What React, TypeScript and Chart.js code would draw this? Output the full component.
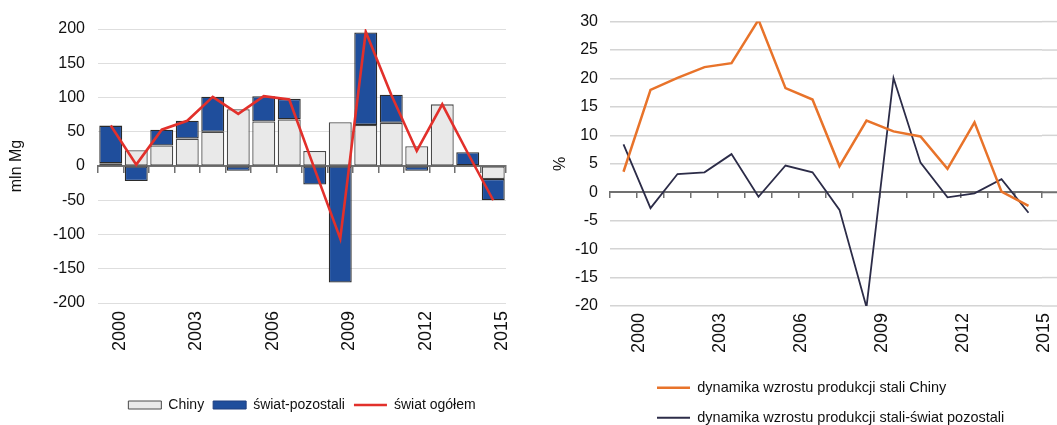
import React, { useEffect, useRef } from 'react';
import { Chart, registerables } from 'chart.js';

Chart.register(...registerables);

// ---- data ----
const years = ['2000', '2001', '2002', '2003', '2004', '2005', '2006', '2007', '2008', '2009', '2010', '2011', '2012', '2013', '2014', '2015'];
// left panel: annual change of steel production, mln Mg
const chinaDelta = [4, 23, 30, 40, 50, 83, 65, 68, 22, 64, 60, 63, 29, 90, 1, -19];
const restDelta = [55, -22, 23, 26, 51, -7, 37, 30, -27, -170, 135, 41, -7, -1, 19, -31];
const worldDelta = [59, 2, 53, 66, 101, 76, 102, 97, -5, -106, 196, 104, 22, 90, 19, -50];
// right panel: growth dynamics, %
const chinaGrowth = [3.6, 18.0, 20.1, 22.0, 22.7, 30.3, 18.3, 16.3, 4.6, 12.6, 10.7, 9.8, 4.1, 12.3, 0.1, -2.4];
const restGrowth = [8.4, -2.8, 3.2, 3.5, 6.7, -0.8, 4.7, 3.5, -3.1, -20.2, 20.1, 5.2, -0.9, -0.2, 2.3, -3.6];
// axis ranges
const leftRange = [-200, 200, 50];
const rightRange = [-20, 30, 5];
const leftTitle = 'mln Mg';
const rightTitle = '%';
const leftSeriesNames = ['Chiny', 'świat-pozostali', 'świat ogółem'];
const rightSeriesNames = ['dynamika wzrostu produkcji stali Chiny', 'dynamika wzrostu produkcji stali-świat pozostali'];

const FONT = "'Liberation Sans', Arial, Helvetica, sans-serif";
const TEXT = '#111111';
const GREY_FILL = '#e9e9e9';
const BLUE = '#1f4e9c';
const RED = '#e2302b';
const ORANGE = '#e8732a';
const NAVY = '#2c2c48';
const AXIS = '#707070';

const every3 = (_v: any, i: number) => (i % 3 === 0 ? years[i] : null);

function LeftChart() {
  const ref = useRef<HTMLCanvasElement>(null);
  useEffect(() => {
    const chart = new Chart(ref.current as HTMLCanvasElement, {
      type: 'bar',
      data: {
        labels: years,
        datasets: [
          {
            type: 'bar', label: leftSeriesNames[0], data: chinaDelta,
            backgroundColor: GREY_FILL, borderColor: '#4a4a4a', borderWidth: 1.3, borderSkipped: false,
            stack: 'bars', order: 1, barPercentage: 0.9, categoryPercentage: 1,
          } as any,
          {
            type: 'bar', label: leftSeriesNames[1], data: restDelta,
            backgroundColor: BLUE, borderColor: '#2b2b2b', borderWidth: 1.3, borderSkipped: false,
            stack: 'bars', order: 1, barPercentage: 0.9, categoryPercentage: 1,
          } as any,
          {
            type: 'line', label: leftSeriesNames[2], data: worldDelta,
            borderColor: RED, backgroundColor: RED, borderWidth: 2.6, pointRadius: 0, tension: 0,
            fill: false, stack: 'line', order: 0,
          } as any,
        ],
      },
      options: {
        responsive: false,
        animation: false,
        layout: { padding: { left: 0, right: 19, top: 29, bottom: 3 } },
        plugins: {
          tooltip: { enabled: false },
          legend: {
            position: 'bottom',
            fullSize: false,
            align: 'center',
            labels: {
              usePointStyle: true,
              pointStyleWidth: 33,
              boxHeight: 8,
              padding: 9,
              color: TEXT,
              font: { family: FONT, size: 14 },
              generateLabels: (c: any) => [
                { text: c.data.datasets[0].label, fillStyle: GREY_FILL, strokeStyle: '#4a4a4a', lineWidth: 1, pointStyle: 'rect', hidden: false, datasetIndex: 0, fontColor: TEXT },
                { text: c.data.datasets[1].label, fillStyle: BLUE, strokeStyle: '#1f3f80', lineWidth: 1, pointStyle: 'rect', hidden: false, datasetIndex: 1, fontColor: TEXT },
                { text: c.data.datasets[2].label, fillStyle: RED, strokeStyle: RED, lineWidth: 2.5, pointStyle: 'line', hidden: false, datasetIndex: 2, fontColor: TEXT },
              ],
            },
          } as any,
        },
        scales: {
          x: {
            type: 'category', position: 'bottom', stacked: true, offset: true,
            grid: { display: false }, border: { display: false },
            ticks: {
              autoSkip: false, minRotation: 90, maxRotation: 90, padding: 0, labelOffset: 9,
              color: TEXT, font: { family: FONT, size: 18 }, callback: every3,
            },
            afterFit: (s: any) => { s.height = 86; },
          } as any,
          x2: {
            type: 'category', position: { y: 0 }, offset: true,
            grid: { offset: true, drawOnChartArea: false, drawTicks: true, tickLength: 6, color: AXIS, lineWidth: 1.5 },
            border: { display: true, color: AXIS, width: 2 },
            ticks: { display: false, autoSkip: false },
          } as any,
          y: {
            stacked: true, min: leftRange[0], max: leftRange[1],
            grid: { color: '#dedede', lineWidth: 1, drawTicks: false },
            border: { display: false },
            ticks: { stepSize: leftRange[2], padding: 13, color: TEXT, font: { family: FONT, size: 16 } },
            title: { display: true, text: leftTitle, color: TEXT, font: { family: FONT, size: 16 }, padding: { top: 7.4, bottom: 0 } },
            afterFit: (s: any) => { s.width = 98; },
          } as any,
        },
      } as any,
    });
    return () => chart.destroy();
  }, []);
  return <canvas ref={ref} width={525} height={425} />;
}

const extendGrid = {
  id: 'extendGrid',
  beforeDatasetsDraw(chart: any) {
    const { ctx, chartArea } = chart;
    const y = chart.scales.y;
    ctx.save();
    y.ticks.forEach((t: any) => {
      const py = y.getPixelForValue(t.value);
      ctx.strokeStyle = t.value === 0 ? AXIS : '#d4d4d4';
      ctx.lineWidth = t.value === 0 ? 2 : 1.5;
      ctx.beginPath();
      ctx.moveTo(chartArea.right, py);
      ctx.lineTo(chart.width, py);
      ctx.stroke();
    });
    ctx.restore();
  },
};

const shiftLegend = {
  id: 'shiftLegend',
  afterLayout(chart: any) {
    const lg = chart.legend;
    if (lg) {
      lg.left += 116.5;
      lg.right += 116.5;
    }
  },
};

function RightChart() {
  const ref = useRef<HTMLCanvasElement>(null);
  useEffect(() => {
    const chart = new Chart(ref.current as HTMLCanvasElement, {
      type: 'line',
      data: {
        labels: years,
        datasets: [
          { label: rightSeriesNames[0], data: chinaGrowth, borderColor: ORANGE, backgroundColor: ORANGE, borderWidth: 2.5, pointRadius: 0, tension: 0, fill: false },
          { label: rightSeriesNames[1], data: restGrowth, borderColor: NAVY, backgroundColor: NAVY, borderWidth: 1.8, pointRadius: 0, tension: 0, fill: false },
        ],
      },
      plugins: [extendGrid, shiftLegend],
      options: {
        responsive: false,
        animation: false,
        layout: { padding: { left: 0, right: 15, top: 19, bottom: 10 } },
        plugins: {
          tooltip: { enabled: false },
          legend: {
            position: 'bottom',
            fullSize: true,
            align: 'start',
            labels: {
              usePointStyle: true,
              pointStyleWidth: 33,
              boxHeight: 8,
              padding: 15.5,
              color: TEXT,
              font: { family: FONT, size: 14.5 },
              generateLabels: (c: any) => [
                { text: c.data.datasets[0].label, fillStyle: ORANGE, strokeStyle: ORANGE, lineWidth: 2.5, pointStyle: 'line', hidden: false, datasetIndex: 0, fontColor: TEXT },
                { text: c.data.datasets[1].label, fillStyle: NAVY, strokeStyle: NAVY, lineWidth: 2, pointStyle: 'line', hidden: false, datasetIndex: 1, fontColor: TEXT },
              ],
            },
          } as any,
        },
        scales: {
          x: {
            type: 'category', position: 'bottom', offset: true,
            grid: { display: false }, border: { display: false },
            ticks: {
              autoSkip: false, minRotation: 90, maxRotation: 90, padding: -1, labelOffset: 16,
              color: TEXT, font: { family: FONT, size: 18 }, callback: every3,
            },
            afterFit: (s: any) => { s.height = 59; },
          } as any,
          x2: {
            type: 'category', position: { y: 0 }, offset: true,
            grid: { offset: true, drawOnChartArea: false, drawTicks: true, tickLength: 5, color: AXIS, lineWidth: 1.5 },
            border: { display: true, color: AXIS, width: 2 },
            ticks: { display: false, autoSkip: false },
          } as any,
          y: {
            min: rightRange[0], max: rightRange[1],
            grid: { color: '#d4d4d4', lineWidth: 1.5, drawTicks: false },
            border: { display: false },
            ticks: { stepSize: rightRange[2], padding: 12, color: TEXT, font: { family: FONT, size: 16 } },
            title: { display: true, text: rightTitle, color: TEXT, font: { family: FONT, size: 16 }, padding: { top: 26.4, bottom: 0 } },
            afterFit: (s: any) => { s.width = 85; },
          } as any,
        },
      } as any,
    });
    return () => chart.destroy();
  }, []);
  return <canvas ref={ref} width={532} height={445} />;
}

export default function App() {
  return (
    <div style={{ position: 'absolute', left: 0, top: 0, width: 1057, height: 425, overflow: 'hidden', background: '#ffffff' }}>
      <div style={{ position: 'absolute', left: 0, top: 0, width: 525, height: 425 }}>
        <LeftChart />
      </div>
      <div style={{ position: 'absolute', left: 525, top: 0, width: 532, height: 445 }}>
        <RightChart />
      </div>
    </div>
  );
}
